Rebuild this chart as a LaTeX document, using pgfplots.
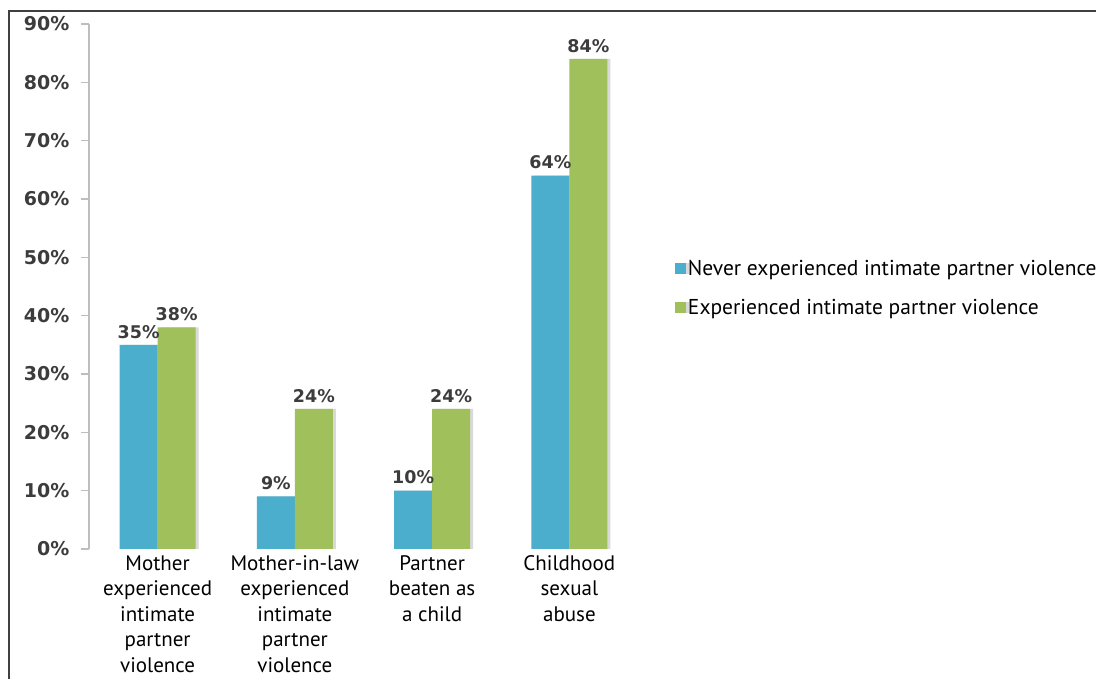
\documentclass[border=0pt]{standalone}
\usepackage{pgfplots}
\pgfplotsset{compat=1.18}
\usepackage{fontspec}
\setmainfont{PT Sans}
\newfontfamily\dv{DejaVu Sans}
\usetikzlibrary{shadows}
\definecolor{cblue}{RGB}{75,174,204}
\definecolor{cgreen}{RGB}{160,192,92}
\definecolor{labgray}{RGB}{60,60,60}
\definecolor{axgray}{RGB}{190,190,190}
\begin{document}
\begin{tikzpicture}
\useasboundingbox (0,0) rectangle (1096pt,679pt);
\draw[line width=2pt, color=black!75] (9pt,0) -- (9pt,668pt) -- (1096pt,668pt);
\begin{axis}[
  at={(89pt,130pt)}, anchor=south west,
  scale only axis, width=549pt, height=525pt,
  xmin=-0.5, xmax=3.5, ymin=0, ymax=90,
  ybar=0pt, bar width=38pt,
  axis x line*=bottom, axis y line*=left,
  x axis line style={draw=none},
  y axis line style={draw=axgray, line width=1.5pt},
  xtick=data,
  xtick style={draw=none},
  xticklabels={{Mother\\experienced\\intimate\\partner\\violence},
               {Mother-in-law\\experienced\\intimate\\partner\\violence},
               {Partner\\beaten as\\a child},
               {Childhood\\sexual\\abuse}},
  xticklabel style={align=center, anchor=north, yshift=5pt,
     font=\fontsize{21}{25.5}\selectfont},
  ytick={0,10,...,90},
  yticklabels={0\%,10\%,20\%,30\%,40\%,50\%,60\%,70\%,80\%,90\%},
  yticklabel style={font=\dv\bfseries\fontsize{19}{21}\selectfont, color=labgray, xshift=-8pt},
  ytick style={draw=axgray, line width=1.2pt},
  tick align=outside, major tick length=8pt,
  /pgf/number format/assume math mode=true,
  nodes near coords={\pgfmathprintnumber{\pgfplotspointmeta}\%},
  every node near coord/.append style={font=\dv\bfseries\fontsize{17.5}{19}\selectfont, color=labgray, yshift=3pt},
  legend style={at={(1.067,0.497)}, anchor=west, draw=none, fill=none,
     font=\fontsize{21.5}{24}\selectfont, row sep=19pt, inner sep=0pt},
  legend cell align=left,
  legend image code/.code={\fill[#1] (0pt,-5.5pt) rectangle (11pt,5.5pt);},
  clip=false,
]
\addplot[fill=cblue, draw=none, drop shadow={shadow xshift=3pt, shadow yshift=0pt, opacity=0.25, fill=black!60}]
  coordinates {(0,35) (1,9) (2,10) (3,64)};
\addplot[fill=cgreen, draw=none, drop shadow={shadow xshift=3pt, shadow yshift=0pt, opacity=0.25, fill=black!60}]
  coordinates {(0,38) (1,24) (2,24) (3,84)};
\legend{Never experienced intimate partner violence, Experienced intimate partner violence}
\end{axis}
\end{tikzpicture}
\end{document}
